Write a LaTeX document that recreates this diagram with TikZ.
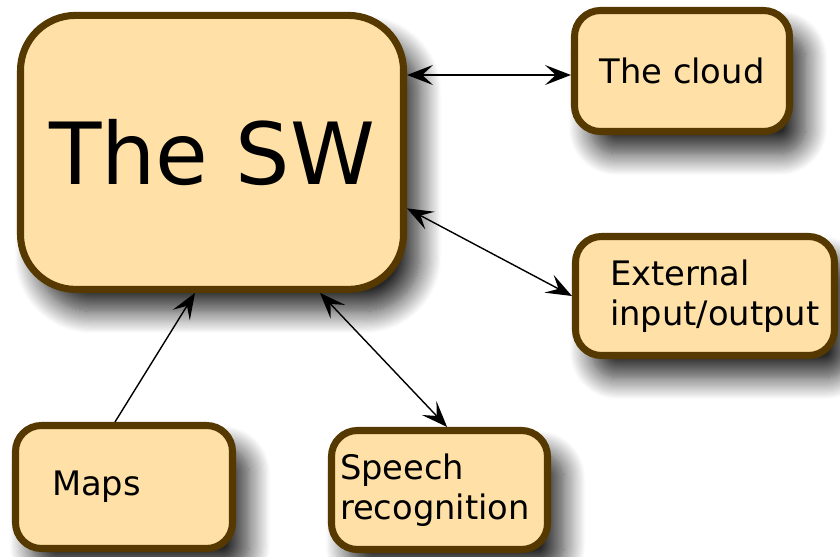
\documentclass[tikz,border=0pt]{standalone}
\usepackage{fontspec}
\setmainfont{DejaVu Sans}
\usepackage{xcolor}
\definecolor{BoxFill}{HTML}{FFE1A8}
\definecolor{BoxEdge}{HTML}{553900}
\usetikzlibrary{arrows.meta, positioning, shadows.blur}

\begin{document}
\begin{tikzpicture}[
  box/.style={draw=BoxEdge, fill=BoxFill, line width=5pt, rounded corners=0.65cm,
    font=\fontsize{24}{28.5}\selectfont, align=left,
    blur shadow={shadow xshift=0.4cm, shadow yshift=-0.55cm, shadow blur radius=0.55cm,
      shadow blur steps=20, shadow opacity=85}},
  link/.style={black, line width=1pt, >={Stealth[length=0.65cm, width=0.5cm, inset=0.27cm]}, <->}
]
  \useasboundingbox (0,0) rectangle (21,13.9);
  \node[box, minimum width=9.575cm, minimum height=6.85cm, rounded corners=1.375cm,
    font=\fontsize{61}{73}\selectfont] (sw) at (5.3,10.09) {The SW};
  \node[box, minimum width=5.375cm, minimum height=3.025cm] (cloud) at (17.05,12.125) {The cloud};
  \node[box, text width=4.75cm, inner xsep=0.8625cm, minimum height=2.975cm] (extio) at (17.625,6.5) {External\\input/output};
  \node[box, text width=3.6cm, inner xsep=0.9125cm, minimum height=3.075cm] (maps) at (3.1,1.725) {Maps};
  \node[box, text width=4.975cm, inner xsep=0.2125cm, minimum height=2.975cm] (speech) at (10.9875,1.65) {Speech\\recognition};
  % links
  \draw[link] ([yshift=-0.1cm]sw.east |- cloud.west) -- ([yshift=-0.1cm]cloud.west);
  \draw[link] ([yshift=-1.4cm]sw.east) -- (extio.west);
  \draw[link, ->] ([xshift=-0.225cm]maps.north) -- ([xshift=-0.425cm]sw.south);
  \draw[link] ([xshift=2.7cm]sw.south) -- ([xshift=0.19cm]speech.north);
\end{tikzpicture}
\end{document}
